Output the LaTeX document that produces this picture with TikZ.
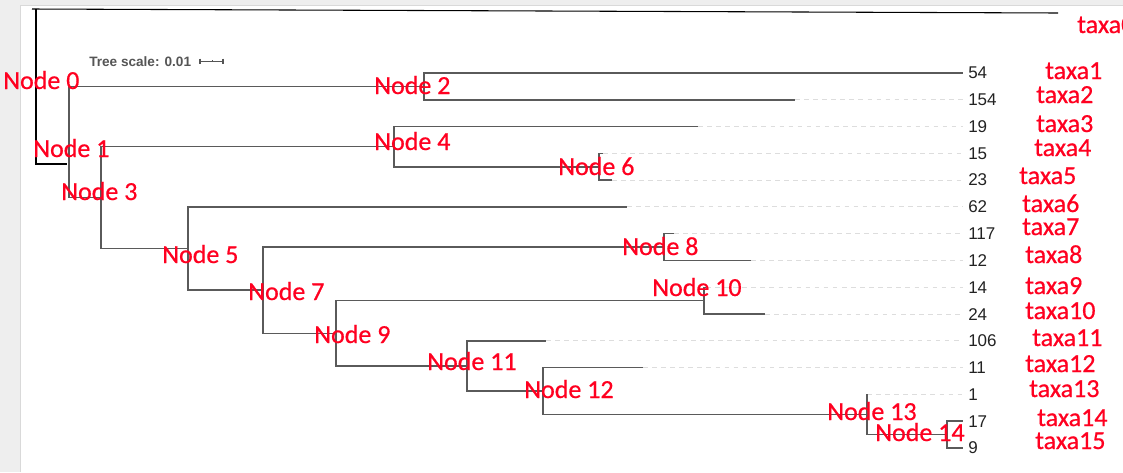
\documentclass[tikz,border=0pt]{standalone}
\usepackage{fontspec}
\setmainfont{Carlito}
\newfontfamily\redfont[FakeBold=0.6]{Carlito}
\newfontfamily\arialf{Liberation Sans}
\definecolor{treegray}{HTML}{5A5A5A}
\definecolor{guidegray}{HTML}{DDDDDD}
\definecolor{labred}{HTML}{FF0020}
\definecolor{numgray}{HTML}{222222}
\definecolor{bggray}{HTML}{EEEEEE}
\definecolor{scalegray}{HTML}{555555}
\tikzset{
  br/.style={draw=treegray, line width=1.1pt},
  guide/.style={draw=guidegray, line width=0.75pt, dash pattern=on 3.4pt off 3.4pt, shorten >=3.75pt},
  nlab/.style={text=labred, font=\redfont\fontsize{19.5}{21}\selectfont, inner sep=0pt, anchor=base west},
  num/.style={font=\arialf\fontsize{12.75}{14}\selectfont, text=numgray, inner sep=0pt, anchor=west},
  handline/.style={draw=black, line width=0.8pt}
}
\begin{document}
\begin{tikzpicture}[x=0.75pt,y=-0.75pt]
\useasboundingbox (0,0) rectangle (1123,472);
% page background
\fill[bggray] (0,0) rectangle (1123,472);
\fill[white] (20,5) rectangle (1123,472);
\draw[black!15, line width=0.6pt] (20,472) -- (20,5) -- (1123,5);
% leaf end points
\coordinate (e1) at (963,73);
\coordinate (e2) at (795,99.8);
\coordinate (e3) at (698,126.6);
\coordinate (e4) at (603,153.4);
\coordinate (e5) at (612,180.1);
\coordinate (e6) at (627,206.9);
\coordinate (e7) at (674,233.7);
\coordinate (e8) at (751,260.5);
\coordinate (e9) at (706,287.3);
\coordinate (e10) at (765,314.1);
\coordinate (e11) at (546,340.9);
\coordinate (e12) at (643,367.7);
\coordinate (e13) at (867,394.4);
\coordinate (e14) at (963,421.2);
\coordinate (e15) at (963,448);
% internal nodes
\coordinate (n14) at (947,434.6);
\coordinate (n13) at (867,414.5);
\coordinate (n12) at (543,391);
\coordinate (n11) at (467,366);
\coordinate (n10) at (704,300.7);
\coordinate (n9) at (336,333.3);
\coordinate (n8) at (664,247.1);
\coordinate (n7) at (263,290);
\coordinate (n5) at (188,248.5);
\coordinate (n6) at (599,166.8);
\coordinate (n4) at (394,146.7);
\coordinate (n3) at (101,197.6);
\coordinate (n2) at (424,86.4);
\coordinate (n0) at (69,142);
% bootstrap / count numbers
\node[num] (v1) at (968,73) {54};
\node[num] (v2) at (968,99.8) {154};
\node[num] (v3) at (968,126.6) {19};
\node[num] (v4) at (968,153.4) {15};
\node[num] (v5) at (968,180.1) {23};
\node[num] (v6) at (968,206.9) {62};
\node[num] (v7) at (968,233.7) {117};
\node[num] (v8) at (968,260.5) {12};
\node[num] (v9) at (968,287.3) {14};
\node[num] (v10) at (968,314.1) {24};
\node[num] (v11) at (968,340.9) {106};
\node[num] (v12) at (968,367.7) {11};
\node[num] (v13) at (968,394.4) {1};
\node[num] (v14) at (968,421.2) {17};
\node[num] (v15) at (968,448) {9};
% dashed guides
\foreach \i in {2,...,13} {\draw[guide] (e\i) -- (v\i.west);}
% branches
\draw[br] (n0) |- (n2);
\draw[br] (n0) |- (n3);
\draw[br] (n2) |- (e1);
\draw[br] (n2) |- (e2);
\draw[br] (n3) |- (n4);
\draw[br] (n3) |- (n5);
\draw[br] (n4) |- (e3);
\draw[br] (n4) |- (n6);
\draw[br] (n6) |- (e4);
\draw[br] (n6) |- (e5);
\draw[br] (n5) |- (e6);
\draw[br] (n5) |- (n7);
\draw[br] (n7) |- (n8);
\draw[br] (n7) |- (n9);
\draw[br] (n8) |- (e7);
\draw[br] (n8) |- (e8);
\draw[br] (n9) |- (n10);
\draw[br] (n9) |- (n11);
\draw[br] (n10) |- (e9);
\draw[br] (n10) |- (e10);
\draw[br] (n11) |- (e11);
\draw[br] (n11) |- (n12);
\draw[br] (n12) |- (e12);
\draw[br] (n12) |- (n13);
\draw[br] (n13) |- (e13);
\draw[br] (n13) |- (n14);
\draw[br] (n14) |- (e14);
\draw[br] (n14) |- (e15);
% hand-drawn root lines
\coordinate (ta) at (32,9);
\coordinate (tb) at (1058,13);
\coordinate (ka) at (36,9);
\coordinate (kb) at (67,164);
\draw[handline] (ta) -- (tb);
\draw[handline] (ka) |- (kb);
% tree scale
\node[font=\arialf\bfseries\fontsize{10.2}{12}\selectfont, text=scalegray, inner sep=0pt, anchor=west] (ts) at (89,61.5) {Tree scale: 0.01};
\coordinate (sa) at (200,61.5);
\coordinate (sb) at (223,61.5);
\coordinate (sm) at (212,61.5);
\draw[scalegray, line width=0.9pt] (sa) -- (sb);
\draw[scalegray, line width=0.9pt] ([yshift=2.2pt]sa) -- ([yshift=-2.2pt]sa);
\draw[scalegray, line width=0.9pt] ([yshift=2.2pt]sb) -- ([yshift=-2.2pt]sb);
\draw[scalegray, line width=0.7pt] (sm) -- ([yshift=1.3pt]sm);
% node labels
\node[nlab] (L0) at (3,89) {Node 0};
\node[nlab] (L1) at (33,157) {Node 1};
\node[nlab] (L3) at (61,200) {Node 3};
\node[nlab] (L2) at (374,94) {Node 2};
\node[nlab] (L4) at (374,150) {Node 4};
\node[nlab] (L6) at (558,175) {Node 6};
\node[nlab] (L5) at (162,263) {Node 5};
\node[nlab] (L8) at (622,255) {Node 8};
\node[nlab] (L7) at (248,300) {Node 7};
\node[nlab] (L10) at (652,296) {Node 10};
\node[nlab] (L9) at (314,343) {Node 9};
\node[nlab] (L11) at (427,370) {Node 11};
\node[nlab] (L12) at (524,398) {Node 12};
\node[nlab] (L13) at (827,420) {Node 13};
\node[nlab] (L14) at (875,441) {Node 14};
% taxa labels
\node[nlab] (T0) at (1077,33) {taxa0};
\node[nlab] (T1) at (1045,79) {taxa1};
\node[nlab] (T2) at (1036,103) {taxa2};
\node[nlab] (T3) at (1036,132) {taxa3};
\node[nlab] (T4) at (1034,156) {taxa4};
\node[nlab] (T5) at (1019,184) {taxa5};
\node[nlab] (T6) at (1022,212) {taxa6};
\node[nlab] (T7) at (1022,235) {taxa7};
\node[nlab] (T8) at (1025,263) {taxa8};
\node[nlab] (T9) at (1025,294) {taxa9};
\node[nlab] (T10) at (1025,319) {taxa10};
\node[nlab] (T11) at (1032,346) {taxa11};
\node[nlab] (T12) at (1025,372) {taxa12};
\node[nlab] (T13) at (1029,397) {taxa13};
\node[nlab] (T14) at (1037,426) {taxa14};
\node[nlab] (T15) at (1035,449) {taxa15};
\end{tikzpicture}
\end{document}
